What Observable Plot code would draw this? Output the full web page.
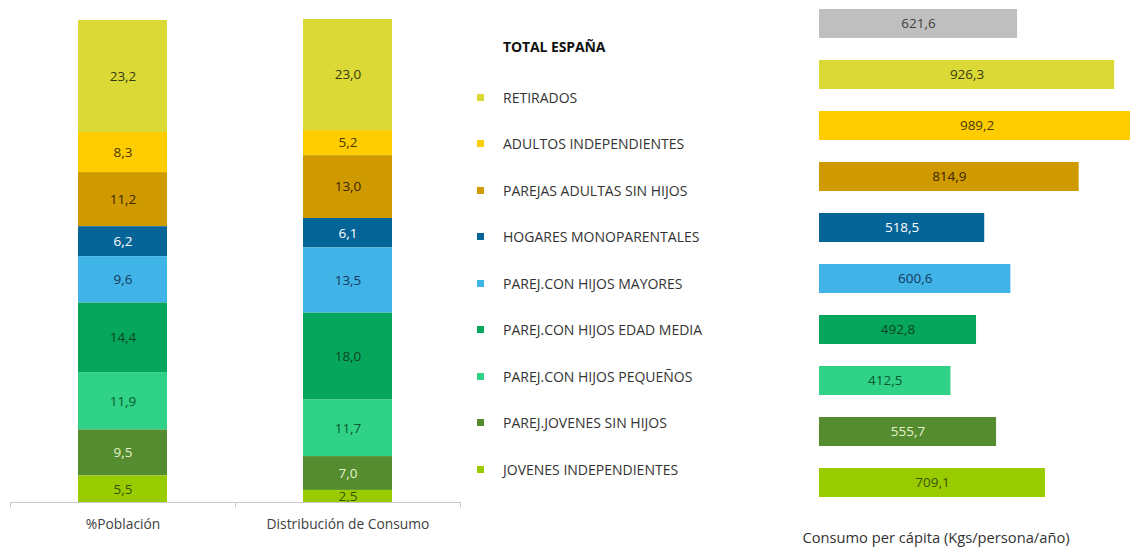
<!DOCTYPE html>
<html><head><meta charset="utf-8">
<script src="https://cdn.jsdelivr.net/npm/d3@7"></script>
<script src="https://cdn.jsdelivr.net/npm/@observablehq/plot@0.6"></script>
<style>
body{margin:0;background:#fff;overflow:hidden;font-family:"Open Sans", Lato, sans-serif}
#wrap{position:relative;width:1130px;height:548px;overflow:hidden}
.pane{position:absolute;top:0}
#legend .title{position:absolute;left:33px;top:37px;line-height:20px;font-weight:bold;font-size:14px;color:#111;letter-spacing:-0.1px}
#legend .items{position:absolute;left:0;top:73.75px}
#legend .item{height:46.5px;display:flex;align-items:center;font-size:14px;color:#333}
#legend .sw{width:7px;height:7px;margin-left:7px;margin-right:19px;flex:none}
#caption{position:absolute;left:0;top:527px;width:272px;text-align:center;font-size:14.7px;color:#333;line-height:20px}
</style></head><body>
<div id="wrap">
 <div id="left" class="pane" style="left:0"></div>
 <div id="legend" class="pane" style="left:470px;width:330px;height:548px"></div>
 <div id="right" class="pane" style="left:800px;width:330px;height:548px"></div>
</div>
<script>
// ---- data ----
const categories = [
  "RETIRADOS",
  "ADULTOS INDEPENDIENTES",
  "PAREJAS ADULTAS SIN HIJOS",
  "HOGARES MONOPARENTALES",
  "PAREJ.CON HIJOS MAYORES",
  "PAREJ.CON HIJOS EDAD MEDIA",
  "PAREJ.CON HIJOS PEQUEÑOS",
  "PAREJ.JOVENES SIN HIJOS",
  "JOVENES INDEPENDIENTES"
];
const colors = ["#dbd935", "#ffcc00", "#cf9a00", "#066598", "#40b4e6", "#06a75c", "#2fd287", "#558c2f", "#99cc00"];
const labelColors = ["#3a3a10", "#4a3a00", "#3a2500", "#ffffff", "#16375e", "#0b4424", "#0b5a30", "#e4f2cc", "#3a5500"];
const columns = ["%Población", "Distribución de Consumo"];
const poblacion = [23.2, 8.3, 11.2, 6.2, 9.6, 14.4, 11.9, 9.5, 5.5];
const consumo = [23.0, 5.2, 13.0, 6.1, 13.5, 18.0, 11.7, 7.0, 2.5];
const totalLabel = "TOTAL ESPAÑA";
const totalValue = 621.6;
const totalColor = "#bfbfbf";
const totalLabelColor = "#404040";
const perCapita = [926.3, 989.2, 814.9, 518.5, 600.6, 492.8, 412.5, 555.7, 709.1];
const captionText = "Consumo per cápita (Kgs/persona/año)";

// ---- helpers ----
const fmt = v => d3.format(".1f")(v).replace(".", ",");
const colorOf = Object.fromEntries(categories.map((c, i) => [c, colors[i]]));
const labelOf = Object.fromEntries(categories.map((c, i) => [c, labelColors[i]]));
const stackOrder = categories.slice().reverse();

const stackData = [];
categories.forEach((c, i) => {
  stackData.push({col: columns[0], cat: c, v: poblacion[i]});
  stackData.push({col: columns[1], cat: c, v: consumo[i]});
});

const font = "'Open Sans', Lato, sans-serif";

// ---- left: stacked columns ----
const left = Plot.plot({
  width: 470, height: 548,
  marginLeft: 10, marginRight: 10, marginTop: 19, marginBottom: 46,
  style: {fontFamily: font, background: "transparent", overflow: "visible"},
  x: {domain: columns, paddingInner: 0.605, paddingOuter: 0.3025, label: null},
  y: {domain: [0, 100], axis: null},
  color: {type: "identity"},
  marks: [
    Plot.barY(stackData, Plot.stackY({x: "col", y: "v", z: "cat", order: stackOrder, fill: d => colorOf[d.cat]})),
    Plot.text(stackData, Plot.stackY({x: "col", y: "v", z: "cat", order: stackOrder,
      text: d => fmt(d.v), fill: d => labelOf[d.cat], fontSize: 13.5})),
    Plot.ruleY([0], {stroke: "#c8c8c8"}),
    Plot.ruleX(columns, {x: d => d, y1: 0, y2: -1.1, dx: -112.5, stroke: "#c8c8c8"}),
    Plot.ruleX(columns.slice(-1), {x: d => d, y1: 0, y2: -1.1, dx: 112.5, stroke: "#c8c8c8"}),
    Plot.axisX({tickSize: 0, tickPadding: 17, fontSize: 13.8, fill: "#404040", label: null})
  ]
});
document.getElementById("left").appendChild(left);

// ---- legend ----
const legend = document.getElementById("legend");
const t = document.createElement("div");
t.className = "title"; t.textContent = totalLabel;
legend.appendChild(t);
const items = document.createElement("div");
items.className = "items";
categories.forEach((c, i) => {
  const it = document.createElement("div"); it.className = "item";
  const sw = document.createElement("span"); sw.className = "sw"; sw.style.background = colors[i];
  const tx = document.createElement("span"); tx.textContent = c;
  it.appendChild(sw); it.appendChild(tx); items.appendChild(it);
});
legend.appendChild(items);

// ---- right: per capita bars ----
const rightData = [{cat: totalLabel, v: totalValue, fill: totalColor, lc: totalLabelColor}]
  .concat(categories.map((c, i) => ({cat: c, v: perCapita[i], fill: colors[i], lc: labelColors[i]})));

const right = Plot.plot({
  width: 330, height: 525,
  marginLeft: 19, marginRight: 0, marginTop: 0, marginBottom: 0,
  style: {fontFamily: font, background: "transparent"},
  x: {domain: [0, 976], axis: null},
  y: {domain: rightData.map(d => d.cat), range: [8, 498], paddingInner: 0.43, paddingOuter: 0, axis: null},
  color: {type: "identity"},
  marks: [
    Plot.barX(rightData, {x: "v", y: "cat", fill: "fill", clip: true}),
    Plot.text(rightData, {x: d => d.v / 2, y: "cat", text: d => fmt(d.v), fill: "lc", fontSize: 13.5})
  ]
});
const rp = document.getElementById("right");
rp.appendChild(right);
const cap = document.createElement("div");
cap.id = "caption"; cap.textContent = captionText;
rp.appendChild(cap);
</script>
</body></html>
